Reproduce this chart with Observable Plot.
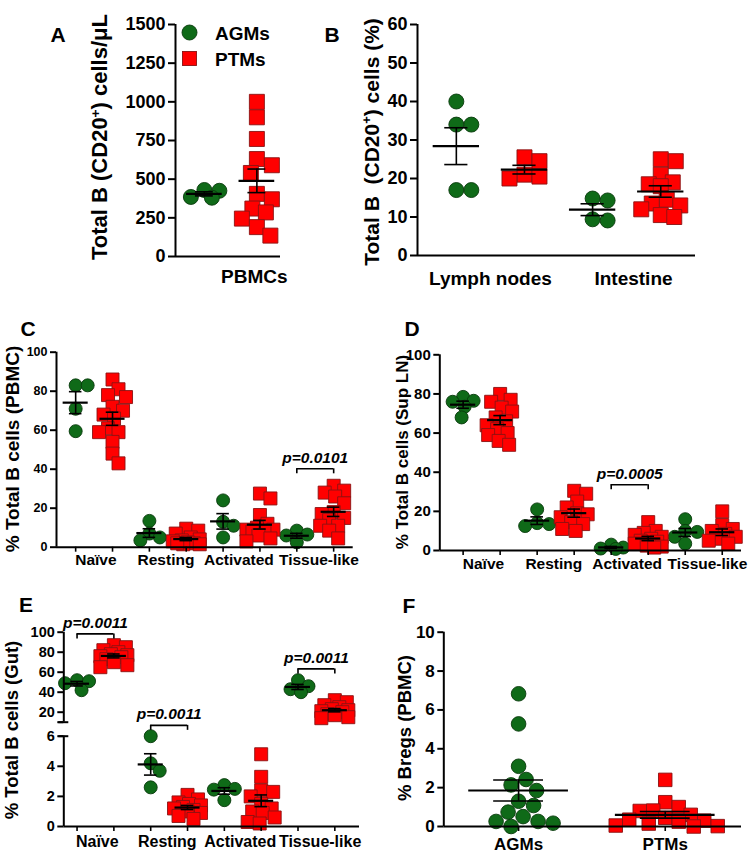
<!DOCTYPE html>
<html><head><meta charset="utf-8">
<script src="https://cdn.jsdelivr.net/npm/d3@7"></script>
<script src="https://cdn.jsdelivr.net/npm/@observablehq/plot@0.6"></script>
<style>
body{margin:0;background:#fff}
#fig{position:relative;width:750px;height:853px;font-family:Arial,"Liberation Sans",Helvetica,sans-serif;font-weight:bold;color:#000;overflow:hidden}
.ylab{position:absolute;white-space:nowrap;transform:translate(-50%,-50%) rotate(-90deg);line-height:1}
.ylab sup{font-size:0.62em;vertical-align:0.55em;line-height:0}
.letter{position:absolute;font-size:21px;transform:translate(-50%,-50%);line-height:1}
.legtxt{position:absolute;font-size:19px;transform:translateY(-50%);line-height:1}
</style></head>
<body><div id="fig"></div>
<script>
// ---------------- data ----------------
const groups = ["AGMs", "PTMs"];
const subsetNames = ["Naïve", "Resting", "Activated", "Tissue-like"];
const tissueNames = ["Lymph nodes", "Intestine"];

// A: total B cells/µL in PBMCs
const aAGMs = [430, 425, 385, 380];
const aPTMs = [1000, 900, 760, 630, 590, 540, 405, 370, 310, 285, 245, 190, 135];

// B: total B cells (%) in lymph nodes and intestine
const bLymphAGMs = [40, 34, 34, 17, 17];
const bLymphPTMs = [25.5, 24.5, 21, 20.5, 20];
const bGutAGMs = [14.8, 14.3, 9.4, 9.1];
const bGutPTMs = [25, 24.5, 21, 19, 18.5, 18, 14.5, 13.5, 13, 12, 10.5, 10];

// C: % of total B cells (PBMC), per subset
const cAGMs = [[83, 83, 71, 59.5], [13.5, 7, 5, 3.5], [24, 13, 11, 5], [8.5, 6.5, 6, 2.5]];
const cPTMs = [
  [86, 81, 78, 77, 72, 70, 68, 66, 61, 59, 59, 54, 48, 43],
  [9.5, 8.5, 7, 5, 4, 3.5, 3, 2.5, 2, 1.5, 1.5, 2],
  [27.5, 25, 16.5, 12, 10, 9, 9, 8, 8, 6, 4.5, 3],
  [31.5, 29, 28, 26, 22.5, 18, 17, 15, 14, 11, 11, 8.5, 4.5]
];
// D: % of total B cells (Sup LN)
const dAGMs = [[78.5, 76.5, 76, 73.5, 68], [21, 14, 13.5, 12.5], [3, 1.5, 1, 0.8], [16, 10, 9.5, 7, 3.5]];
const dPTMs = [
  [80, 77, 76, 73, 71, 68, 66, 64, 62, 60, 59, 56, 54],
  [30.5, 29, 25, 22, 19, 18.5, 17, 14.5, 13.5, 11, 10],
  [14.5, 10, 9, 8, 7, 6, 5, 4.5, 3.5, 2.5, 2, 1.5],
  [20, 13, 11, 10, 8.5, 7, 6, 5, 3.5]
];
// E: % of total B cells (Gut)
const eAGMs = [[52, 51, 49, 42], [6, 4.2, 3.7, 2.6], [2.75, 2.5, 2.45, 1.75], [52, 46, 43, 40]];
const ePTMs = [
  [87, 85, 82, 80, 78, 77, 76, 75, 73, 70, 67, 65],
  [2.1, 1.8, 1.6, 1.5, 1.4, 1.3, 1.2, 1.1, 1.0, 0.9, 0.7, 0.5],
  [4.8, 3.3, 2.4, 2.3, 2.0, 1.5, 1.2, 1.0, 0.9, 0.6, 0.3, 0.2],
  [32, 30, 27, 25, 23, 22, 21, 20, 18, 17, 15, 14]
];
// F: % Bregs (PBMC)
const fAGMs = [6.83, 5.28, 3.1, 2.42, 2.14, 1.85, 1.3, 1.08, 0.74, 0.51, 0.26, 0.26, 0.17, 0];
const fPTMs = [2.4, 1.25, 1.0, 0.82, 0.8, 0.6, 0.45, 0.35, 0.3, 0.25, 0.15, 0.05, 0.02, 0];

// significance annotations (subset index, p label, bracket level)
const cSig = [{cat: 3, text: "p=0.0101", y: 40.2}];
const dSig = [{cat: 2, text: "p=0.0005", y: 33.6}];
const eSig = [{cat: 0, text: "p=0.0011", y: 98.3}, {cat: 1, text: "p=0.0011", y: 9.1}, {cat: 3, text: "p=0.0011", y: 63.3}];

// ---------------- styles ----------------
const GREEN = "#0f6a18", GREEN_STROKE = "#093a0c";
const RED = "#ff0000", RED_STROKE = "#8a1212";
const MEANW = 0.34, CAPW = 0.17;
const subsetLabelPos = [0.55, 2.45, 4.43, 6.6]; // label anchors along the x axis

const fig = document.getElementById("fig");

function dodge(pys, sep, maxOff, step = 1.5) {
  const order = d3.range(pys.length).sort((a, b) => pys[a] - pys[b]);
  const placed = [], offs = new Array(pys.length).fill(0);
  const cands = [0];
  for (let k = 1; k * step <= maxOff; k++) cands.push(k * step, -k * step);
  for (const i of order) {
    let best = 0, bestScore = -Infinity;
    for (const c of cands) {
      let minD = Infinity;
      for (const p of placed) minD = Math.min(minD, Math.hypot(p.x - c, p.y - pys[i]));
      if (minD >= sep) { best = c; break; }
      if (minD > bestScore) { bestScore = minD; best = c; }
    }
    placed.push({x: best, y: pys[i]});
    offs[i] = best;
  }
  return offs;
}

function subsetSeries(agm, ptm) {
  return subsetNames.flatMap((c, k) => [
    {x: 2 * k, group: groups[0], values: agm[k]},
    {x: 2 * k + 1, group: groups[1], values: ptm[k]}
  ]);
}
function sigBrackets(sig) {
  return sig.map(s => ({x1: 2 * s.cat, x2: 2 * s.cat + 1, y: s.y, text: s.text}));
}

function buildPanel(cfg) {
  const yRange = cfg.yRange || [cfg.h - cfg.mb, cfg.mt];
  const ys = d3.scaleLinear(cfg.yDomain, yRange);
  const x0 = cfg.xDomain[0], x1 = cfg.xDomain[1];
  const pxPerX = (cfg.w - cfg.ml - cfg.mr) / (x1 - x0);
  const pts = [], stats = [];
  for (const s of cfg.series) {
    const isCircle = s.group === groups[0];
    const size = isCircle ? 2 * cfg.r : cfg.side;
    const offs = dodge(s.values.map(v => ys(v)), size * cfg.sepK, cfg.maxOff);
    s.values.forEach((v, i) => pts.push({x: s.x + offs[i] / pxPerX, y: v, group: s.group}));
    const m = d3.mean(s.values), e = d3.deviation(s.values) / Math.sqrt(s.values.length);
    stats.push({x: s.x, mean: m, lo: m - e, hi: m + e});
  }
  const yTop = d3.max(cfg.yDomain);
  const axisSegs = cfg.axisSegs || [[cfg.yDomain[0], yTop]];
  const labelMap = new Map(cfg.labels.map(l => [l.x, l.text]));
  const capAx = 5 / pxPerX;
  const marks = [
    Plot.dot(pts.filter(d => d.group === groups[0]), {x: "x", y: "y", r: cfg.r, fill: GREEN, stroke: GREEN_STROKE, strokeWidth: 0.9}),
    Plot.dot(pts.filter(d => d.group === groups[1]), {x: "x", y: "y", r: cfg.side / Math.sqrt(Math.PI), symbol: "square", fill: RED, stroke: RED_STROKE, strokeWidth: 0.9}),
    Plot.ruleX(stats, {x: "x", y1: "lo", y2: "hi", strokeWidth: 1.6}),
    Plot.ruleY(stats, {y: "lo", x1: d => d.x - CAPW, x2: d => d.x + CAPW, strokeWidth: 1.6}),
    Plot.ruleY(stats, {y: "hi", x1: d => d.x - CAPW, x2: d => d.x + CAPW, strokeWidth: 1.6}),
    Plot.ruleY(stats, {y: "mean", x1: d => d.x - MEANW, x2: d => d.x + MEANW, strokeWidth: 2.2}),
    Plot.ruleX(axisSegs, {x: () => x0, y1: d => d[0], y2: d => d[1], strokeWidth: 2}),
    Plot.ruleY([cfg.yDomain[0]], {x1: x0, x2: x1, strokeWidth: 2}),
    Plot.axisY({ticks: cfg.yTicks, tickFormat: cfg.yFormat || (d => String(d)), tickSize: cfg.tickSize || 6, tickPadding: 3, fontSize: cfg.tickFs, strokeWidth: 2, label: null}),
    Plot.axisX({ticks: cfg.labels.map(l => l.x), tickSize: 0, tickPadding: cfg.xLabPad, tickFormat: d => labelMap.get(d), fontSize: cfg.xLabFs, label: null})
  ];
  if (cfg.slotTicks) marks.push(Plot.axisX({ticks: cfg.series.map(s => s.x), tickSize: 5, tickFormat: () => "", strokeWidth: 1.6, label: null}));
  if (cfg.caps) marks.push(Plot.ruleY(cfg.caps, {x1: x0 - capAx, x2: x0 + capAx, strokeWidth: 2}));
  if (cfg.brackets) {
    const br = cfg.brackets;
    const ends = br.flatMap(b => [b.x1, b.x2].map(x => ({x, y1: b.y, y2: ys.invert(ys(b.y) + 5)})));
    marks.push(
      Plot.ruleY(br, {y: "y", x1: "x1", x2: "x2", strokeWidth: 1.6}),
      Plot.ruleX(ends, {x: "x", y1: "y1", y2: "y2", strokeWidth: 1.6}),
      Plot.text(br, {x: d => (d.x1 + d.x2) / 2, y: "y", text: "text", dy: -11, fontSize: 15.5, fontStyle: "italic", fontWeight: "bold"})
    );
  }
  const svg = Plot.plot({
    width: cfg.w, height: cfg.h,
    marginLeft: cfg.ml, marginRight: cfg.mr, marginTop: cfg.mt, marginBottom: cfg.mb,
    x: {type: "linear", domain: cfg.xDomain},
    y: {type: "linear", domain: cfg.yDomain, range: yRange},
    style: {fontFamily: 'Arial, "Liberation Sans", Helvetica, sans-serif', fontWeight: "bold", overflow: "visible", background: "transparent", color: "#000"},
    marks
  });
  svg.style.position = "absolute";
  svg.style.left = cfg.left + "px";
  svg.style.top = cfg.top + "px";
  fig.appendChild(svg);
}

const subsetLabels = subsetNames.map((t, k) => ({x: subsetLabelPos[k], text: t}));

const panels = [
  { // A
    left: 0, top: 0, w: 300, h: 300, ml: 175, mr: 20, mt: 24, mb: 44,
    xDomain: [-0.55, 1.45], yDomain: [0, 1500], yTicks: d3.range(0, 1501, 250), tickFs: 18, tickSize: 7,
    series: [{x: 0, group: groups[0], values: aAGMs}, {x: 1, group: groups[1], values: aPTMs}],
    labels: [{x: 0.95, text: "PBMCs"}], xLabFs: 19, xLabPad: 13,
    r: 7.5, side: 15, sepK: 1.0, maxOff: 16
  },
  { // B
    left: 300, top: 0, w: 450, h: 300, ml: 117, mr: 55, mt: 24, mb: 45,
    xDomain: [-0.57, 3.51], yDomain: [0, 60], yTicks: d3.range(0, 61, 10), tickFs: 18, tickSize: 7,
    series: [
      {x: 0, group: groups[0], values: bLymphAGMs}, {x: 1, group: groups[1], values: bLymphPTMs},
      {x: 2, group: groups[0], values: bGutAGMs}, {x: 3, group: groups[1], values: bGutPTMs}
    ],
    labels: [{x: 0.5, text: tissueNames[0]}, {x: 2.6, text: tissueNames[1]}], xLabFs: 19, xLabPad: 16,
    r: 7.5, side: 15, sepK: 0.95, maxOff: 20
  },
  { // C
    left: 0, top: 300, w: 375, h: 290, ml: 56, mr: 22.3, mt: 51.7, mb: 43.3,
    xDomain: [-0.52, 7.53], yDomain: [0, 100], yTicks: d3.range(0, 101, 20), tickFs: 12.5,
    series: subsetSeries(cAGMs, cPTMs), labels: subsetLabels, xLabFs: 15.5, xLabPad: 7, slotTicks: true,
    brackets: sigBrackets(cSig),
    r: 6.5, side: 13, sepK: 0.85, maxOff: 14
  },
  { // D
    left: 375, top: 300, w: 375, h: 290, ml: 64.3, mr: 9, mt: 54.3, mb: 40,
    xDomain: [-0.63, 7.52], yDomain: [0, 100], yTicks: d3.range(0, 101, 20), tickFs: 15,
    series: subsetSeries(dAGMs, dPTMs), labels: subsetLabels, xLabFs: 15.5, xLabPad: 7, slotTicks: true,
    brackets: sigBrackets(dSig),
    r: 6.5, side: 13, sepK: 0.85, maxOff: 14
  },
  { // E (broken axis: piecewise y scale)
    left: 0, top: 590, w: 375, h: 263, ml: 63.3, mr: 16, mt: 41.7, mb: 27,
    xDomain: [-0.36, 7.67], yDomain: [0, 6, 10, 100], yRange: [236, 145.7, 131.7, 41.7],
    yTicks: [0, 2, 4, 6, 10, 20, 40, 60, 80, 100], yFormat: d => (d === 10 ? "" : String(d)), tickFs: 14.5,
    axisSegs: [[0, 6], [10, 100]], caps: [6, 10],
    series: subsetSeries(eAGMs, ePTMs), labels: subsetLabels, xLabFs: 16, xLabPad: 9, slotTicks: true,
    brackets: sigBrackets(eSig),
    r: 6.5, side: 13, sepK: 0.85, maxOff: 14
  },
  { // F
    left: 375, top: 590, w: 375, h: 263, ml: 68.3, mr: 9, mt: 41.7, mb: 27,
    xDomain: [-0.51, 1.52], yDomain: [0, 10], yTicks: d3.range(0, 11, 2), tickFs: 17,
    series: [{x: 0, group: groups[0], values: fAGMs}, {x: 1, group: groups[1], values: fPTMs}],
    labels: [{x: 0, text: groups[0]}, {x: 1, text: groups[1]}], xLabFs: 17, xLabPad: 11, slotTicks: true,
    r: 7.3, side: 13.5, sepK: 1.0, maxOff: 60
  }
];
panels.forEach(buildPanel);

// axis titles
const titles = [
  {html: "Total B (CD20<sup>+</sup>) cells/μL", x: 100, y: 137, fs: 22},
  {html: "Total B&nbsp;&nbsp;(CD20<sup>+</sup>) cells (%)", x: 371, y: 142, fs: 21},
  {html: "% Total B cells (PBMC)", x: 12, y: 449, fs: 19},
  {html: "% Total B cells (Sup LN)", x: 402, y: 452, fs: 17},
  {html: "% Total B cells (Gut)", x: 12, y: 730, fs: 18.5},
  {html: "% Bregs (PBMC)", x: 405, y: 728, fs: 18.5}
];
for (const t of titles) {
  const d = document.createElement("div");
  d.className = "ylab";
  d.innerHTML = t.html;
  d.style.left = t.x + "px"; d.style.top = t.y + "px"; d.style.fontSize = t.fs + "px";
  fig.appendChild(d);
}
// panel letters
const letters = [["A", 58, 34], ["B", 332, 34], ["C", 28, 328], ["D", 412, 328], ["E", 26, 604], ["F", 409, 605]];
for (const [t, x, y] of letters) {
  const d = document.createElement("div");
  d.className = "letter"; d.textContent = t;
  d.style.left = x + "px"; d.style.top = y + "px";
  fig.appendChild(d);
}
// legend
const ns = "http://www.w3.org/2000/svg";
const leg = document.createElementNS(ns, "svg");
leg.setAttribute("width", 20); leg.setAttribute("height", 46);
leg.style.position = "absolute"; leg.style.left = "180px"; leg.style.top = "22px";
leg.innerHTML = `<circle cx="9.5" cy="10.5" r="7.5" fill="${GREEN}" stroke="${GREEN_STROKE}" stroke-width="0.9"/>` +
  `<rect x="2.5" y="29.5" width="14" height="14" fill="${RED}" stroke="${RED_STROKE}" stroke-width="0.9"/>`;
fig.appendChild(leg);
[[groups[0], 33], [groups[1], 58.5]].forEach(([t, y]) => {
  const d = document.createElement("div");
  d.className = "legtxt"; d.textContent = t;
  d.style.left = "215px"; d.style.top = y + "px";
  fig.appendChild(d);
});
</script>
</body></html>
